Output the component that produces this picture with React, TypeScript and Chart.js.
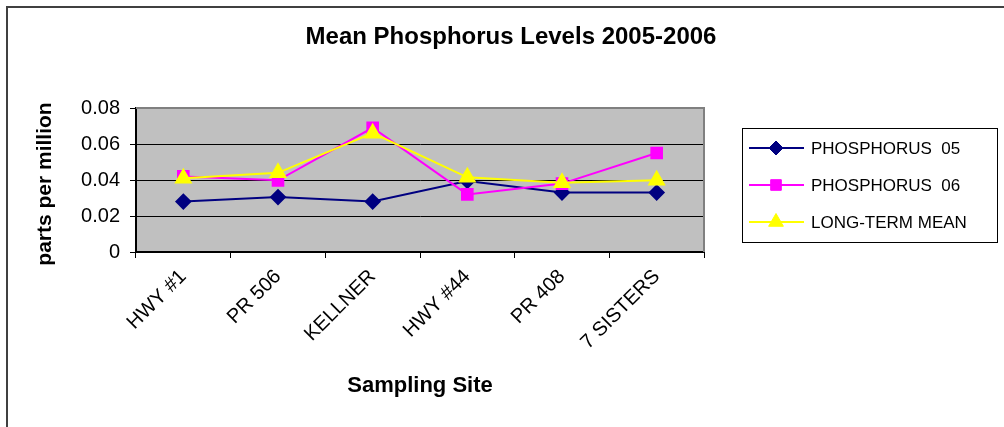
import React, { useEffect, useRef } from "react";
import { Chart, registerables } from "chart.js";
import { drawPoint } from "chart.js/helpers";

Chart.register(...registerables);

const TITLE = "Mean Phosphorus Levels 2005-2006";
const Y_TITLE = "parts per million";
const X_TITLE = "Sampling Site";
const SITES = ["HWY #1", "PR 506", "KELLNER", "HWY #44", "PR 408", "7 SISTERS"];
const PHOSPHORUS_05 = [0.028, 0.0305, 0.028, 0.0395, 0.033, 0.033];
const PHOSPHORUS_06 = [0.042, 0.0398, 0.069, 0.032, 0.038, 0.055];
const LONG_TERM_MEAN = [0.041, 0.044, 0.066, 0.0415, 0.0385, 0.0398];
const SERIES_NAMES = ["PHOSPHORUS  05", "PHOSPHORUS  06", "LONG-TERM MEAN"];
const Y_TICKS = [0, 0.02, 0.04, 0.06, 0.08];

const FONT = "'Liberation Sans', Arial, sans-serif";
const PLOT = { left: 136, right: 704, top: 108, bottom: 252 };

const decorPlugin = {
  id: "decor",
  beforeDraw(chart: any) {
    const { ctx, chartArea: a } = chart;
    ctx.save();
    ctx.fillStyle = "#ffffff";
    ctx.fillRect(0, 0, chart.width, chart.height);
    ctx.fillStyle = "#c0c0c0";
    ctx.fillRect(a.left, a.top, a.right - a.left, a.bottom - a.top);
    ctx.restore();
  },
  afterDraw(chart: any) {
    const { ctx, chartArea: a } = chart;
    ctx.save();
    // plot border (gray)
    ctx.strokeStyle = "#808080";
    ctx.lineWidth = 2;
    ctx.beginPath();
    ctx.moveTo(a.left, a.top);
    ctx.lineTo(a.right, a.top);
    ctx.lineTo(a.right, a.bottom);
    ctx.stroke();
    // outer frame
    ctx.strokeStyle = "#404040";
    ctx.lineWidth = 2;
    ctx.beginPath();
    ctx.moveTo(7, chart.height + 5);
    ctx.lineTo(7, 7);
    ctx.lineTo(chart.width + 5, 7);
    ctx.stroke();
    // title
    ctx.fillStyle = "#000";
    ctx.textAlign = "center";
    ctx.textBaseline = "middle";
    ctx.font = `bold 24px ${FONT}`;
    ctx.fillText(TITLE, 511, 37);
    // x title
    ctx.font = `bold 22px ${FONT}`;
    ctx.fillText(X_TITLE, (a.left + a.right) / 2, 386);
    // y title
    ctx.font = `bold 21px ${FONT}`;
    ctx.save();
    ctx.translate(45, 184);
    ctx.rotate(-Math.PI / 2);
    ctx.fillText(Y_TITLE, 0, 0);
    ctx.restore();
    // legend
    const lx = 742, ly = 128, lw = 255, lh = 114;
    ctx.fillStyle = "#fff";
    ctx.fillRect(lx, ly, lw, lh);
    ctx.strokeStyle = "#000";
    ctx.lineWidth = 1;
    ctx.strokeRect(lx + 0.5, ly + 0.5, lw, lh);
    const rows = [148, 185, 222];
    chart.data.datasets.forEach((ds: any, i: number) => {
      const y = rows[i];
      ctx.strokeStyle = ds.borderColor;
      ctx.lineWidth = 2;
      ctx.beginPath();
      ctx.moveTo(749, y);
      ctx.lineTo(804, y);
      ctx.stroke();
      ctx.fillStyle = ds.pointBackgroundColor;
      ctx.strokeStyle = ds.pointBorderColor;
      ctx.lineWidth = 1;
      drawPoint(ctx, { pointStyle: ds.pointStyle, radius: ds.pointRadius, borderWidth: 1, rotation: 0 }, 776, y);
      ctx.fillStyle = "#000";
      ctx.textAlign = "left";
      ctx.textBaseline = "middle";
      ctx.font = `17px ${FONT}`;
      ctx.fillText(ds.label, 811, y + 1);
    });
    ctx.restore();
  },
};

export default function App() {
  const ref = useRef<HTMLCanvasElement>(null);
  useEffect(() => {
    if (!ref.current) return;
    const chart = new Chart(ref.current, {
      type: "line",
      data: {
        labels: SITES,
        datasets: [
          {
            label: SERIES_NAMES[0],
            data: PHOSPHORUS_05,
            borderColor: "#000080",
            backgroundColor: "#000080",
            pointBackgroundColor: "#000080",
            pointBorderColor: "#000080",
            pointStyle: "rectRot",
            pointRadius: 7,
            borderWidth: 2,
            order: 2,
          },
          {
            label: SERIES_NAMES[1],
            data: PHOSPHORUS_06,
            borderColor: "#ff00ff",
            backgroundColor: "#ff00ff",
            pointBackgroundColor: "#ff00ff",
            pointBorderColor: "#ff00ff",
            pointStyle: "rect",
            pointRadius: 7.5,
            borderWidth: 2,
            order: 1,
          },
          {
            label: SERIES_NAMES[2],
            data: LONG_TERM_MEAN,
            borderColor: "#ffff00",
            backgroundColor: "#ffff00",
            pointBackgroundColor: "#ffff00",
            pointBorderColor: "#ffff00",
            pointStyle: "triangle",
            pointRadius: 8.5,
            borderWidth: 2,
            order: 0,
          },
        ],
      },
      options: {
        responsive: false,
        animation: false,
        devicePixelRatio: 1,
        layout: { padding: { top: PLOT.top, right: 1004 - PLOT.right, left: 0, bottom: 0 } },
        plugins: { legend: { display: false }, title: { display: false }, tooltip: { enabled: false } },
        elements: { line: { tension: 0 } },
        scales: {
          x: {
            type: "category",
            offset: true,
            afterFit(scale: any) {
              scale.height = 427 - PLOT.bottom;
            },
            grid: {
              offset: true,
              drawOnChartArea: false,
              drawTicks: true,
              tickLength: 6,
              color: "#000",
              lineWidth: 1,
            },
            border: { display: true, color: "#000", width: 2 },
            ticks: {
              minRotation: 45,
              maxRotation: 45,
              autoSkip: false,
              color: "#000",
              padding: 7,
              font: { family: FONT, size: 20 },
            },
          },
          y: {
            min: 0,
            max: 0.08,
            afterFit(scale: any) {
              scale.width = PLOT.left;
            },
            afterBuildTicks(scale: any) {
              scale.ticks = Y_TICKS.map((v) => ({ value: v }));
            },
            grid: {
              drawTicks: true,
              tickLength: 6,
              color: "#000",
              lineWidth: 1,
            },
            border: { display: true, color: "#000", width: 2 },
            ticks: {
              color: "#000",
              padding: 10,
              font: { family: FONT, size: 20 },
              callback: (v: any) => String(v),
            },
          },
        },
      },
      plugins: [decorPlugin],
    });
    return () => chart.destroy();
  }, []);
  return (
    <div style={{ position: "absolute", left: 0, top: 0, width: 1004, height: 427 }}>
      <canvas ref={ref} width={1004} height={427} style={{ width: 1004, height: 427, display: "block" }} />
    </div>
  );
}
